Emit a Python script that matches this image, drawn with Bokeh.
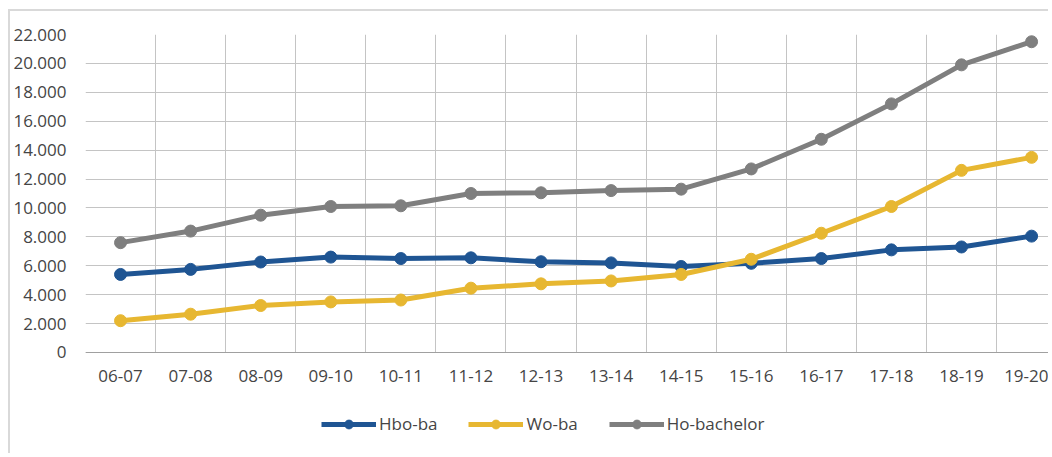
from bokeh.plotting import figure
from bokeh.models import Range1d, FixedTicker, Legend, LegendItem
from bokeh.embed import file_html
from bokeh.resources import INLINE

years = ["06-07", "07-08", "08-09", "09-10", "10-11", "11-12", "12-13",
         "13-14", "14-15", "15-16", "16-17", "17-18", "18-19", "19-20"]
hbo_ba = [5400, 5750, 6260, 6600, 6500, 6550, 6280, 6200, 5950, 6170, 6500, 7100, 7300, 8050]
wo_ba = [2200, 2650, 3250, 3500, 3630, 4450, 4750, 4950, 5400, 6450, 8250, 10100, 12600, 13500]
ho_bachelor = [7600, 8400, 9500, 10100, 10150, 11000, 11050, 11200, 11300, 12700, 14750, 17200, 19900, 21500]
series_names = ["Hbo-ba", "Wo-ba", "Ho-bachelor"]
series_colors = ["#1F5593", "#E7B731", "#7F7F7F"]
y_ticks = list(range(0, 22001, 2000))

FONT = "Open Sans"
TEXT = "#454545"
x = list(range(len(years)))
Y_MAX = 22000
# the frame reaches below zero so that the legend can sit inside it
Y_MIN = -7126

p = figure(width=1040, height=444,
           x_range=Range1d(-0.5, 13.27), y_range=Range1d(Y_MIN, Y_MAX),
           output_backend="svg", toolbar_location=None,
           min_border_left=75, min_border_right=0,
           min_border_top=23, min_border_bottom=0)
p.outline_line_color = None
p.styles = {"margin-left": "8px", "margin-top": "9px",
            "border-left": "2px solid #d9d9d9", "border-top": "2px solid #d9d9d9"}

# x axis, pinned at zero
p.xaxis.fixed_location = 0
p.xaxis.ticker = FixedTicker(ticks=x)
p.xaxis.major_label_overrides = {i: years[i] for i in x}
p.xaxis.axis_line_color = "#a0a0a0"
p.xaxis.axis_line_width = 1
p.xaxis.major_tick_line_color = None
p.xaxis.major_tick_out = 0
p.xaxis.major_tick_in = 0
p.xaxis.minor_tick_line_color = None
p.xaxis.major_label_standoff = 18
p.xaxis.major_label_text_font = FONT
p.xaxis.major_label_text_font_size = "17px"
p.xaxis.major_label_text_color = TEXT

# y axis
p.yaxis.ticker = FixedTicker(ticks=y_ticks)
p.yaxis.major_label_overrides = {v: f"{v:,}".replace(",", ".") for v in y_ticks}
p.yaxis.axis_line_color = None
p.yaxis.major_tick_line_color = None
p.yaxis.major_tick_out = 0
p.yaxis.major_tick_in = 0
p.yaxis.minor_tick_line_color = None
p.yaxis.major_label_standoff = 19
p.yaxis.major_label_text_font = FONT
p.yaxis.major_label_text_font_size = "17px"
p.yaxis.major_label_text_color = TEXT

# grids
p.xgrid.ticker = FixedTicker(ticks=[i - 0.5 for i in range(len(years) + 1)])
p.xgrid.cross_bounds = (0, Y_MAX)
p.xgrid.grid_line_color = "#c4c4c4"
p.ygrid.grid_line_color = "#c4c4c4"

items = []
for name, col, vals in zip(series_names, series_colors, [hbo_ba, wo_ba, ho_bachelor]):
    lr = p.line(x, vals, line_color=col, line_width=5)
    sr = p.scatter(x, vals, size=12, fill_color=col, line_color=col)
    items.append(LegendItem(label=name, renderers=[lr, sr]))

legend = Legend(items=items, orientation="horizontal", location=(236, 20),
                glyph_width=55, glyph_height=22, label_standoff=3, spacing=31,
                padding=0, margin=0, border_line_color=None,
                background_fill_alpha=0,
                label_text_font=FONT, label_text_font_size="17px",
                label_text_color=TEXT)
p.add_layout(legend, "center")

open("out.html", "w").write(file_html(p, INLINE))
